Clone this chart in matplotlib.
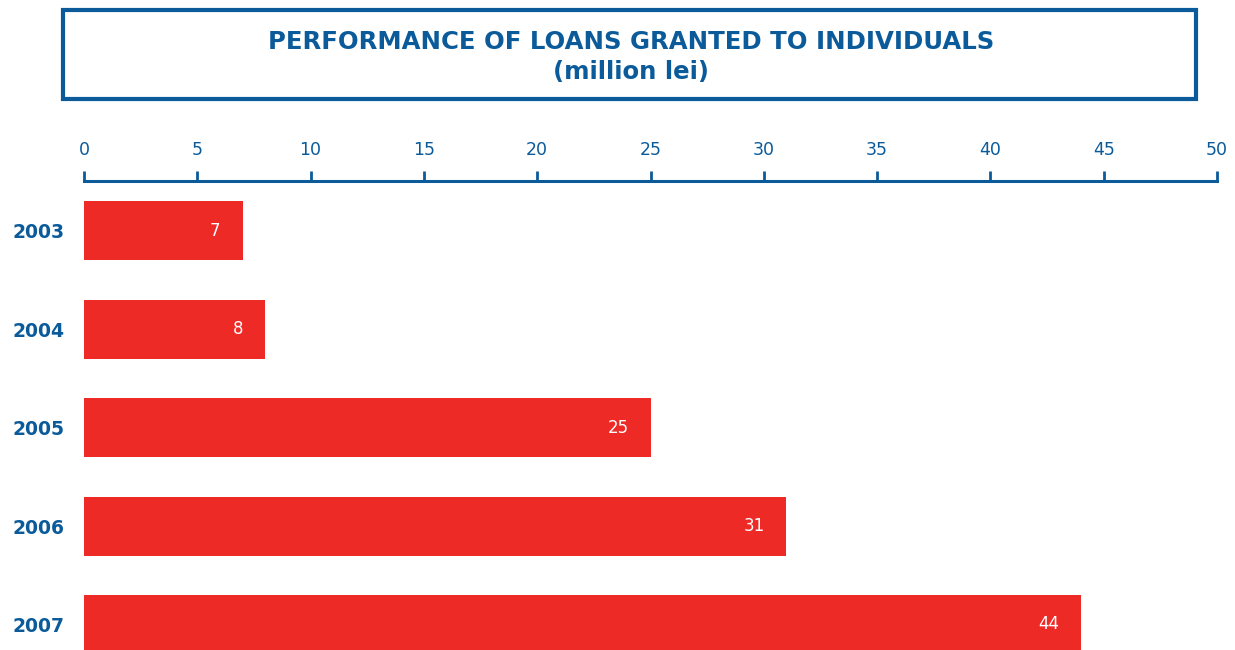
import matplotlib.pyplot as plt
from matplotlib.patches import Rectangle

years = ['2003', '2004', '2005', '2006', '2007']
loans = [7, 8, 25, 31, 44]
ticks = [0, 5, 10, 15, 20, 25, 30, 35, 40, 45, 50]

BLUE = '#0b5b9b'
RED = '#ee2a27'

W, H = 1235, 650
fig = plt.figure(figsize=(W / 100, H / 100), dpi=100)

# title frame
fig.patches.append(Rectangle((63 / W, 1 - 99 / H), 1133 / W, 89 / H,
                             transform=fig.transFigure, fill=False,
                             edgecolor=BLUE, linewidth=3))
fig.text(631 / W, 1 - 42 / H, 'PERFORMANCE OF LOANS GRANTED TO INDIVIDUALS',
         ha='center', va='center', fontsize=17.6, fontweight='bold', color=BLUE)
fig.text(631 / W, 1 - 72 / H, '(million lei)',
         ha='center', va='center', fontsize=17.6, fontweight='bold', color=BLUE)

ax = fig.add_axes([84 / W, 0, 1133 / W, (650 - 181) / H])
pos = list(range(len(years)))
ax.barh(pos, loans, height=0.6, color=RED)

for p, v in zip(pos, loans):
    ax.annotate(str(v), (v, p), xytext=(-22, 0), textcoords='offset pixels',
                ha='right', va='center', color='white', fontsize=12)

ax.set_xlim(0, 50)
ax.set_ylim(4.26, -0.508)
ax.set_xticks(ticks)
ax.xaxis.tick_top()
ax.tick_params(axis='x', colors=BLUE, labelsize=12.5, length=7, width=2, pad=9)
ax.set_yticks(pos)
ax.set_yticklabels(years, fontsize=13.5, fontweight='bold', color=BLUE)
ax.tick_params(axis='y', length=0, pad=14)

for side in ['right', 'bottom', 'left']:
    ax.spines[side].set_visible(False)
ax.spines['top'].set_color(BLUE)
ax.spines['top'].set_linewidth(2.2)

fig.savefig('out.png', dpi=100)
